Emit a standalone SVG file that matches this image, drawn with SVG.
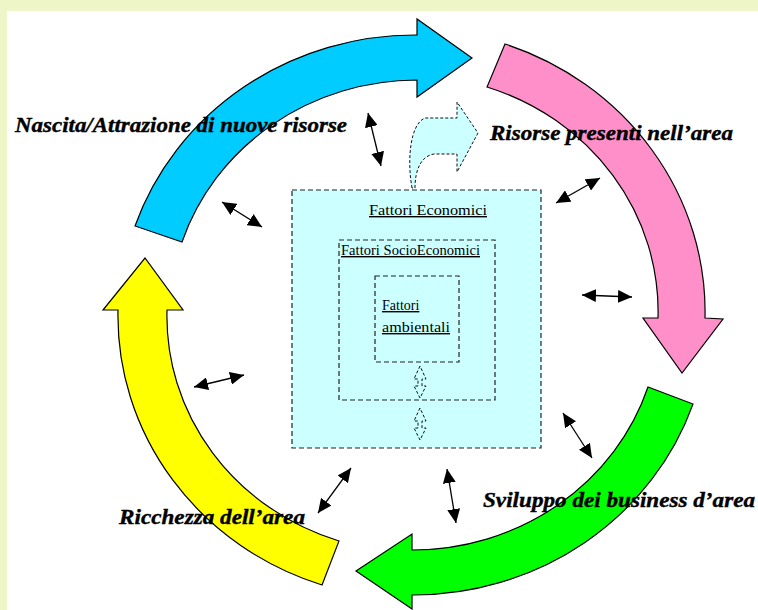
<svg xmlns="http://www.w3.org/2000/svg" width="758" height="610" viewBox="0 0 758 610">
  <style>
    .ring { stroke: #000; stroke-width: 1.2; stroke-linejoin: miter; }
    .lbl { font-family: "Liberation Serif", "Times New Roman", serif; font-weight: bold; font-style: italic; font-size: 22px; fill: #000; stroke: #000; stroke-width: 0.4; }
    .box { fill: #CCFFFF; stroke: #222; stroke-width: 1.2; stroke-dasharray: 5 3; }
    .boxin { fill: none; stroke: #222; stroke-width: 1.2; stroke-dasharray: 5 3; }
    .ul { font-family: "Liberation Serif", "Times New Roman", serif; font-size: 14px; fill: #000; text-decoration: underline; }
    .conn { stroke: #000; stroke-width: 1.3; fill: none; marker-start: url(#ah); marker-end: url(#ah); }
    .dd { fill: #CCFFFF; stroke: #111; stroke-width: 1; stroke-dasharray: 3 2; }
  </style>
  <defs>
    <marker id="ah" markerUnits="userSpaceOnUse" markerWidth="15" markerHeight="13" refX="14" refY="6.5" orient="auto-start-reverse">
      <path d="M0,0 L14,6.5 L0,13 Z" fill="#000"/>
    </marker>
  </defs>

  <rect x="0" y="0" width="758" height="610" fill="#EEF5C6"/>
  <rect x="7" y="11" width="751" height="599" fill="#FFFFFF"/>

  <g id="arrow-nascita">
    <path class="ring" fill="#00CCFF" d="M135,226 A296,283 0 0 1 417,35 L417,19 L472,58 L417,97 L417,80 A248,236 0 0 0 182,242 Z"/>
  </g>
  <g id="arrow-risorse">
    <path class="ring" fill="#FF8FC8" d="M505,44 A296,283 0 0 1 705,318 L723,319 L682,373 L643,318 L658,318 A248,236 0 0 0 487,87 Z"/>
  </g>
  <g id="arrow-sviluppo">
    <path class="ring" fill="#00FF00" d="M693,404 A296,283 0 0 1 412,595 L412,609 L356,571 L412,534 L412,550 A248,236 0 0 0 648,387 Z"/>
  </g>
  <g id="arrow-ricchezza">
    <path class="ring" fill="#FFFF00" d="M322,585 A296,283 0 0 1 118,310 L103,310 L145,258 L183,310 L167,310 A248,236 0 0 0 339,541 Z"/>
  </g>

  <g id="label-nascita"><text class="lbl" x="15" y="132" textLength="332" lengthAdjust="spacingAndGlyphs">Nascita/Attrazione di nuove risorse</text></g>
  <g id="label-risorse"><text class="lbl" x="490" y="140" textLength="243" lengthAdjust="spacingAndGlyphs">Risorse presenti nell’area</text></g>
  <g id="label-sviluppo"><text class="lbl" x="483" y="507" textLength="272" lengthAdjust="spacingAndGlyphs">Sviluppo dei business d’area</text></g>
  <g id="label-ricchezza"><text class="lbl" x="119" y="524" textLength="186" lengthAdjust="spacingAndGlyphs">Ricchezza dell’area</text></g>

  <g id="fattori-economici">
    <rect class="box" x="292" y="190" width="249" height="258"/>
    <text class="ul" x="369" y="215" textLength="118" lengthAdjust="spacingAndGlyphs">Fattori Economici</text>
  </g>
  <g id="fattori-socioeconomici">
    <rect class="boxin" x="339" y="240" width="156" height="160"/>
    <text class="ul" x="341" y="255" textLength="139" lengthAdjust="spacingAndGlyphs">Fattori SocioEconomici</text>
  </g>
  <g id="fattori-ambientali">
    <rect class="boxin" x="375" y="276" width="84" height="86"/>
    <text class="ul" x="382" y="310">Fattori</text>
    <text class="ul" x="382" y="332" textLength="68" lengthAdjust="spacingAndGlyphs">ambientali</text>
  </g>
  <g id="uscita">
    <path class="dd" stroke-dasharray="5 3" d="M412,188 C407,160 410,124 425,118 L457,118 L457,102 L478,133 L457,172 L457,154 L434,154 C421,156 415,170 415,188 Z"/>
  </g>

  <g id="connectors">
    <path class="dd" d="M420,366 L414,379 L418,379 L418,386 L414,386 L420,398 L426,386 L422,386 L422,379 L426,379 Z"/>
    <path class="dd" d="M420,408 L414,421 L418,421 L418,428 L414,428 L420,440 L426,428 L422,428 L422,421 L426,421 Z"/>
    <line class="conn" x1="368" y1="113" x2="381" y2="166"/>
    <line class="conn" x1="222" y1="202" x2="262" y2="227"/>
    <line class="conn" x1="556" y1="203" x2="600" y2="178"/>
    <line class="conn" x1="582" y1="295" x2="632" y2="297"/>
    <line class="conn" x1="194" y1="387" x2="244" y2="375"/>
    <line class="conn" x1="563" y1="413" x2="592" y2="458"/>
    <line class="conn" x1="447" y1="469" x2="456" y2="523"/>
    <line class="conn" x1="351" y1="468" x2="318" y2="513"/>
  </g>
</svg>
